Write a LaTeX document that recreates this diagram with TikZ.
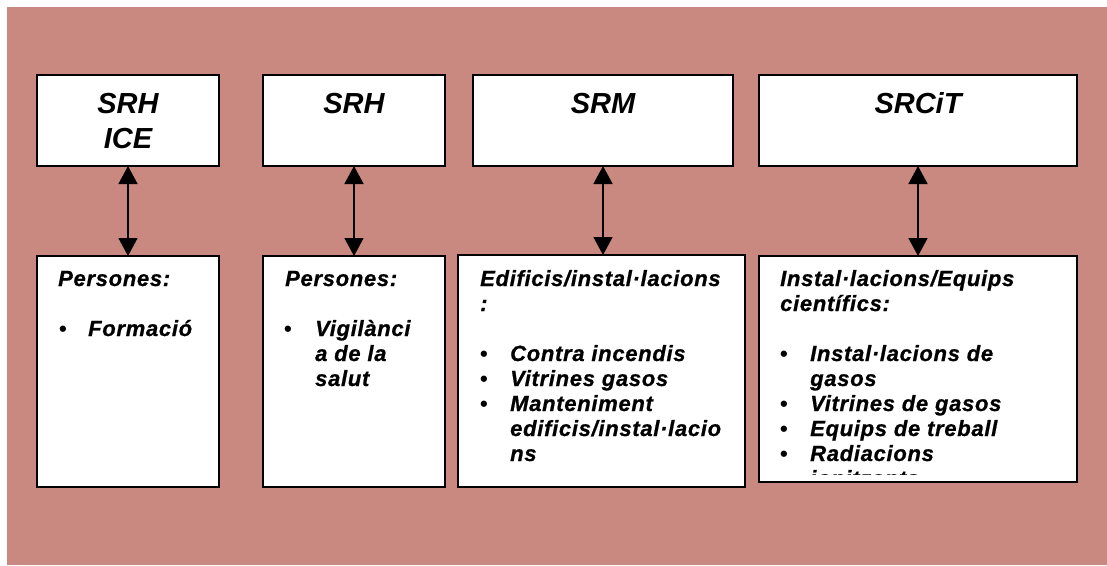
\documentclass[tikz,border=0pt]{standalone}
\usepackage{fontspec}
\setmainfont{Liberation Sans}
\newfontfamily\bodyfont[LetterSpace=3.2,FakeBold=0.8]{Liberation Sans}
\usetikzlibrary{arrows.meta}
\definecolor{bgrose}{RGB}{201,137,128}
\begin{document}
\begin{tikzpicture}[x=1pt,y=-1pt,
  box/.style={draw=black, fill=white, line width=1.6pt, rectangle, inner sep=0pt, outer sep=0pt, anchor=north west},
  ttl/.style={inner sep=0pt, anchor=base, font=\fontsize{29}{35}\selectfont\bfseries\itshape},
  txt/.style={inner sep=0pt, anchor=base west, font=\bodyfont\fontsize{22}{25}\selectfont\bfseries\itshape},
  bul/.style={inner sep=0pt, anchor=base west, font=\fontsize{22}{25}\selectfont\bfseries},
  conn/.style={line width=1.6pt, {Triangle[width=19pt,length=18pt]}-{Triangle[width=19pt,length=18pt]}}]
\useasboundingbox (0,0) rectangle (1107,565);
\fill[bgrose] (7,7) rectangle (1107,565);
% top boxes
\node[box, minimum width=182pt, minimum height=91pt] (t1) at (37,75) {};
\node[box, minimum width=182pt, minimum height=91pt] (t2) at (263,75) {};
\node[box, minimum width=260pt, minimum height=91pt] (t3) at (473,75) {};
\node[box, minimum width=318pt, minimum height=91pt] (t4) at (759,75) {};
% bottom boxes
\node[box, minimum width=182pt, minimum height=231pt] (b1) at (37,256) {};
\node[box, minimum width=182pt, minimum height=231pt] (b2) at (263,256) {};
\node[box, minimum width=287pt, minimum height=232pt] (b3) at (458,255) {};
\node[box, minimum width=318pt, minimum height=226pt] (b4) at (759,256) {};
% titles
\node[ttl] (t1a) at (128,113) {SRH};
\node[ttl] (t1b) at (128,148) {ICE};
\node[ttl] (t2a) at (354,113) {SRH};
\node[ttl] (t3a) at (603,113) {SRM};
\node[ttl] (t4a) at (918,113) {SRCiT};
% connectors
\draw[conn] (t1.south) -- (t1.south |- b1.north);
\draw[conn] (t2.south) -- (t2.south |- b2.north);
\draw[conn] (t3.south) -- (t3.south |- b3.north);
\draw[conn] (t4.south) -- (t4.south |- b4.north);
% box 1 text
\node[txt] (p1) at (58,286) {Persones:};
\node[bul] (p1b1) at (59,336) {•};
\node[txt] (p1l1) at (88,336) {Formació};
% box 2 text
\node[txt] (p2) at (285,286) {Persones:};
\node[bul] (p2b1) at (284,336) {•};
\node[txt] (p2l1) at (315,336) {Vigilànci};
\node[txt] (p2l2) at (315,361) {a de la};
\node[txt] (p2l3) at (315,386) {salut};
% box 3 text
\node[txt] (p3a) at (480,286) {Edificis/instal·lacions};
\node[txt] (p3b) at (480,311) {:};
\node[bul] (p3b1) at (480,361) {•};
\node[txt] (p3l1) at (510,361) {Contra incendis};
\node[bul] (p3b2) at (480,386) {•};
\node[txt] (p3l2) at (510,386) {Vitrines gasos};
\node[bul] (p3b3) at (480,411) {•};
\node[txt] (p3l3) at (510,411) {Manteniment};
\node[txt] (p3l4) at (510,436) {edificis/instal·lacio};
\node[txt] (p3l5) at (510,461) {ns};
% box 4 text
\node[txt] (p4a) at (780,286) {Instal·lacions/Equips};
\node[txt] (p4b) at (780,311) {científics:};
\node[bul] (p4b1) at (780,361) {•};
\node[txt] (p4l1) at (810,361) {Instal·lacions de};
\node[txt] (p4l2) at (810,386) {gasos};
\node[bul] (p4b2) at (780,411) {•};
\node[txt] (p4l3) at (810,411) {Vitrines de gasos};
\node[bul] (p4b3) at (780,436) {•};
\node[txt] (p4l4) at (810,436) {Equips de treball};
\node[bul] (p4b4) at (780,461) {•};
\node[txt] (p4l5) at (810,461) {Radiacions};
\begin{scope}
\clip (760,257) rectangle (1075,474);
\node[txt] (p4l6) at (810,486) {ionitzants};
\end{scope}
\end{tikzpicture}
\end{document}
